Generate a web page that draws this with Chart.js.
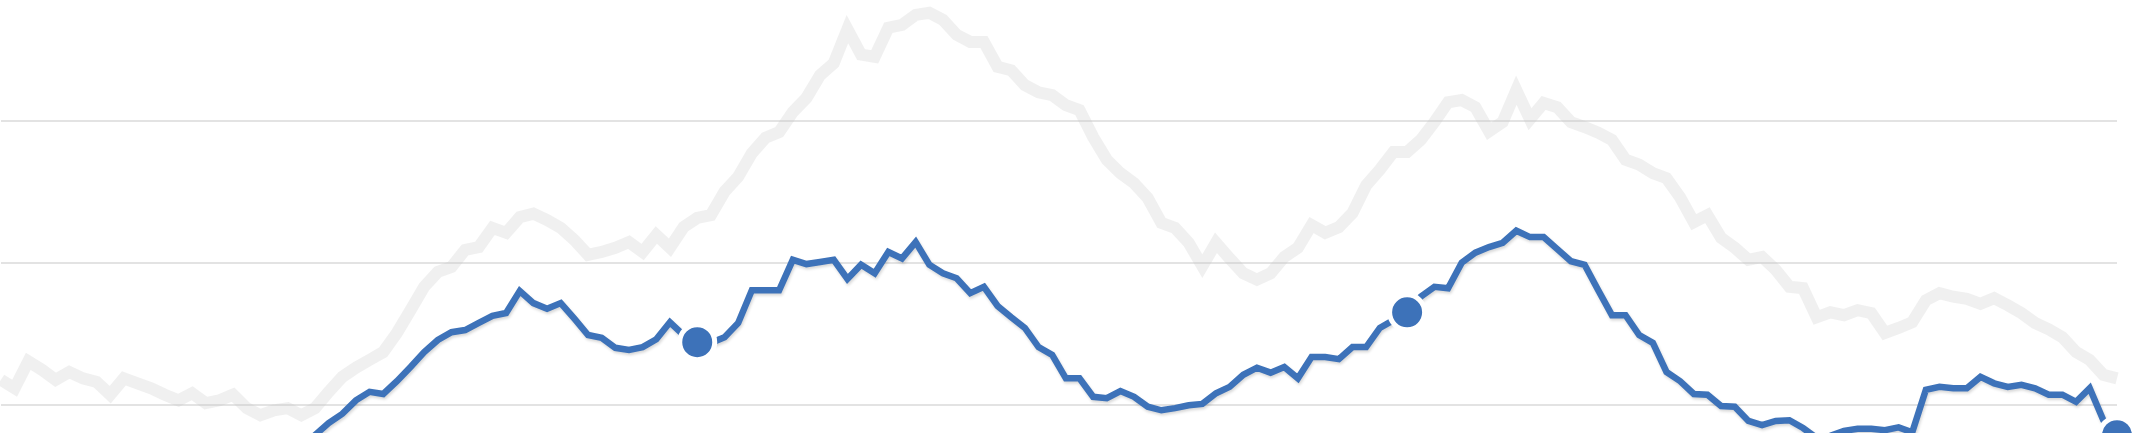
<!DOCTYPE html>
<html>
<head>
<meta charset="utf-8">
<script src="https://cdn.jsdelivr.net/npm/chart.js@4/dist/chart.umd.min.js"></script>
<style>
  html, body { margin: 0; padding: 0; background: #ffffff; }
  #wrap { width: 2136px; height: 433px; position: relative; }
</style>
</head>
<body>
<div id="wrap"><canvas id="chart"></canvas></div>
<script>
// weekly values, three years (156 weeks)
const prevSeries = [
  23.5, 22.3, 26.1, 24.9, 23.5, 24.6, 23.7, 23.2, 21.4, 23.7,
  23.0, 22.3, 21.4, 20.6, 21.6, 20.2, 20.6, 21.4, 19.5, 18.5,
  19.2, 19.5, 18.5, 19.5, 21.8, 23.9, 25.2, 26.3, 27.4, 30.1,
  33.3, 36.6, 38.7, 39.4, 41.8, 42.2, 44.9, 44.2, 46.4, 46.9,
  46.0, 44.9, 43.2, 41.1, 41.5, 42.1, 42.9, 41.5, 43.9, 42.1,
  45.0, 46.3, 46.7, 50.0, 52.1, 55.4, 57.6, 58.4, 61.2, 63.2,
  66.4, 68.1, 72.9, 69.3, 69.0, 73.1, 73.5, 74.9, 75.2, 74.2,
  72.1, 71.1, 71.1, 67.6, 67.1, 65.0, 64.0, 63.6, 62.2, 61.5,
  57.7, 54.5, 52.6, 51.2, 49.1, 45.6, 44.9, 42.8, 39.5, 42.8,
  40.6, 38.5, 37.6, 38.5, 40.8, 42.1, 45.3, 44.2, 45.0, 47.0,
  50.9, 53.1, 55.6, 55.6, 57.3, 59.8, 62.6, 62.9, 61.9, 58.5,
  59.8, 64.3, 60.2, 62.5, 61.9, 59.8, 59.1, 58.3, 57.3, 54.5,
  53.8, 52.6, 51.9, 49.2, 45.7, 46.7, 43.5, 42.1, 40.4, 40.8,
  39.0, 36.6, 36.4, 32.3, 33.0, 32.6, 33.3, 32.9, 30.1, 30.8,
  31.6, 34.7, 35.7, 35.2, 34.9, 34.2, 35.0, 34.0, 32.9, 31.5,
  30.6, 29.5, 27.4, 26.3, 24.2, 23.7
];

const currSeries = [
  13.5, 12.8, 14.2, 13.6, 13.0, 13.4, 12.9, 12.6, 11.8, 12.5,
  12.2, 11.7, 11.2, 10.9, 11.3, 10.6, 10.9, 11.2, 10.5, 10.1,
  11.0, 12.3, 13.8, 15.7, 17.4, 18.7, 20.6, 21.8, 21.5, 23.3,
  25.3, 27.4, 29.1, 30.2, 30.5, 31.5, 32.5, 32.9, 36.0, 34.3,
  33.5, 34.3, 32.1, 29.8, 29.4, 28.0, 27.7, 28.1, 29.2, 31.6,
  29.8, 28.8, 28.7, 29.5, 31.5, 36.1, 36.1, 36.1, 40.4, 39.8,
  40.1, 40.4, 37.7, 39.7, 38.5, 41.5, 40.6, 42.9, 39.7, 38.5,
  37.8, 35.7, 36.6, 33.9, 32.3, 30.8, 28.1, 27.0, 23.7, 23.7,
  21.1, 20.9, 21.9, 21.1, 19.7, 19.2, 19.5, 19.9, 20.1, 21.6,
  22.5, 24.2, 25.2, 24.5, 25.3, 23.7, 26.7, 26.7, 26.4, 28.1,
  28.1, 30.8, 31.9, 33.0, 35.2, 36.6, 36.4, 40.0, 41.4, 42.2,
  42.8, 44.5, 43.6, 43.6, 41.9, 40.2, 39.7, 36.1, 32.6, 32.6,
  29.8, 28.7, 24.6, 23.3, 21.5, 21.4, 19.8, 19.7, 17.7, 17.1,
  17.7, 17.8, 16.7, 15.3, 15.6, 16.3, 16.6, 16.6, 16.4, 16.8,
  16.1, 22.1, 22.5, 22.3, 22.3, 23.9, 23.0, 22.5, 22.8, 22.3,
  21.4, 21.4, 20.4, 22.3, 17.8, 15.7
];

// weeks that get a marker (end of each year)
const markedWeeks = [51, 103, 155];

const gridValues = [20, 40, 60];

const weeks = [];
for (let i = 0; i < prevSeries.length; i++) weeks.push('W' + (i + 1));

const BLUE = '#3d72b9';

// soft drop shadow under the blue line only
const shadowPlugin = {
  id: 'lineShadow',
  beforeDatasetDraw(chart, args) {
    if (args.index !== 1) return;
    const ctx = chart.ctx;
    ctx.save();
    ctx.shadowColor = 'rgba(0, 0, 0, 0.16)';
    ctx.shadowBlur = 3;
    ctx.shadowOffsetX = 1;
    ctx.shadowOffsetY = 2;
  },
  afterDatasetDraw(chart, args) {
    if (args.index !== 1) return;
    chart.ctx.restore();
  }
};

new Chart(document.getElementById('chart').getContext('2d'), {
  type: 'line',
  data: {
    labels: weeks,
    datasets: [
      {
        label: 'Year end',
        data: currSeries,
        showLine: false,
        pointRadius: weeks.map((w, i) => markedWeeks.includes(i) ? 17.5 : 0),
        pointBackgroundColor: BLUE,
        pointBorderColor: '#ffffff',
        pointBorderWidth: 5,
        clip: false,
        order: 0
      },
      {
        label: 'Current',
        data: currSeries,
        borderColor: BLUE,
        borderWidth: 6.5,
        borderJoinStyle: 'miter',
        borderCapStyle: 'butt',
        tension: 0,
        pointRadius: 0,
        order: 1
      },
      {
        label: 'Previous',
        data: prevSeries,
        borderColor: 'rgba(200, 200, 200, 0.27)',
        borderWidth: 12,
        borderJoinStyle: 'miter',
        borderCapStyle: 'butt',
        tension: 0,
        pointRadius: 0,
        order: 2
      }
    ]
  },
  options: {
    responsive: true,
    maintainAspectRatio: false,
    animation: false,
    layout: { autoPadding: false, padding: { left: 1, right: 19, top: 0, bottom: 0 } },
    plugins: {
      legend: { display: false },
      tooltip: { enabled: false }
    },
    scales: {
      x: {
        display: false,
        offset: false
      },
      y: {
        min: 16,
        max: 77,
        afterBuildTicks: scale => {
          scale.ticks = gridValues.map(v => ({ value: v }));
        },
        ticks: { display: false },
        border: { display: false },
        grid: {
          color: '#e3e3e3',
          lineWidth: 2,
          drawTicks: false
        }
      }
    }
  },
  plugins: [shadowPlugin]
});
</script>
</body>
</html>
